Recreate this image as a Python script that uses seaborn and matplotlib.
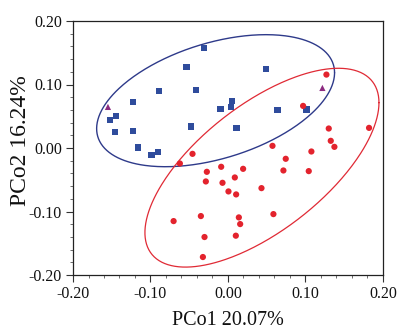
import numpy as np
import pandas as pd
import matplotlib
matplotlib.use("Agg")
import matplotlib.pyplot as plt
from matplotlib.ticker import MultipleLocator, FormatStrFormatter
import seaborn as sns

# ---- data ----
blue_x = [-0.0307, -0.0535, 0.0488, -0.0887, -0.0415, -0.1222, 0.0054, -0.0097, 0.0040, 0.0638,
          0.1012, -0.1446, -0.1519, -0.0475, 0.0110, -0.1463, -0.1222, -0.1162, -0.0986, -0.0904]
blue_y = [0.1580, 0.1277, 0.1240, 0.0899, 0.0915, 0.0720, 0.0742, 0.0616, 0.0647, 0.0595,
          0.0605, 0.0500, 0.0438, 0.0338, 0.0317, 0.0254, 0.0265, 0.0008, -0.0113, -0.0066]

tri_x = [-0.1549, 0.1218]
tri_y = [0.0647, 0.0946]

red_x = [0.1270, 0.0969, 0.1300, 0.1820, 0.1326, 0.1373, 0.0574, 0.1076, -0.0458, 0.0745,
         -0.0621, -0.0088, 0.0195, -0.0273, 0.0715, 0.1042, 0.0088, -0.0286, -0.0071, 0.0006,
         0.0432, 0.0105, -0.0702, -0.0350, 0.0140, 0.0586, 0.0157, -0.0303, 0.0101, -0.0324]
red_y = [0.1156, 0.0663, 0.0307, 0.0317, 0.0113, 0.0018, 0.0034, -0.0055, -0.0092, -0.0170,
         -0.0244, -0.0296, -0.0328, -0.0375, -0.0354, -0.0364, -0.0464, -0.0527, -0.0548, -0.0684,
         -0.0632, -0.0731, -0.1151, -0.1072, -0.1093, -0.1041, -0.1198, -0.1402, -0.1381, -0.1717]

# ellipse parameters: centre (cx, cy), x(t)=cx+A cos t, y(t)=cy+B cos t+C sin t
ell_blue = dict(cx=-0.0160, cy=0.0745, A=0.1535, B=0.0440, C=0.0942)
ell_red = dict(cx=0.0438, cy=-0.0310, A=0.1510, B=0.1023, C=0.1185)

x_ticks = [-0.20, -0.10, 0.00, 0.10, 0.20]
y_ticks = [-0.20, -0.10, 0.00, 0.10, 0.20]
x_label = "PCo1 20.07%"
y_label = "PCo2 16.24%"

df = pd.DataFrame({
    "x": blue_x + tri_x + red_x,
    "y": blue_y + tri_y + red_y,
    "grp": ["A"] * len(blue_x) + ["B"] * len(tri_x) + ["C"] * len(red_x),
})

sns.set_theme(style="white")
plt.rcParams["font.family"] = ["Liberation Serif", "DejaVu Serif"]

fig = plt.figure(figsize=(4.06, 3.36), dpi=100)
ax = fig.add_axes([73 / 406, 1 - 275 / 336, 310 / 406, 254 / 336])

pal = {"A": "#2f4c9c", "B": "#8c2a80", "C": "#e3232d"}
mk = {"A": "s", "B": "^", "C": "o"}
sns.scatterplot(data=df, x="x", y="y", hue="grp", style="grp", palette=pal,
                markers=mk, s=20, linewidth=0, legend=False, ax=ax, zorder=3)

t = np.linspace(0, 2 * np.pi, 400)
for e, col, lw in [(ell_blue, "#2e3a8a", 1.0), (ell_red, "#e02a35", 0.9)]:
    ex = e["cx"] + e["A"] * np.cos(t)
    ey = e["cy"] + e["B"] * np.cos(t) + e["C"] * np.sin(t)
    ax.plot(ex, ey, color=col, lw=lw, zorder=2)

ax.set_xlim(-0.2, 0.2)
ax.set_ylim(-0.2, 0.2)
ax.set_xticks(x_ticks)
ax.set_yticks(y_ticks)
ax.xaxis.set_major_formatter(FormatStrFormatter("%.2f"))
ax.yaxis.set_major_formatter(FormatStrFormatter("%.2f"))
ax.xaxis.set_minor_locator(MultipleLocator(0.02))
ax.yaxis.set_minor_locator(MultipleLocator(0.02))
ax.tick_params(axis="both", which="major", direction="out", length=5, width=0.8,
               color="#333333", labelsize=11.5, labelcolor="#111111",
               bottom=True, left=True, top=False, right=False, pad=3)
ax.tick_params(axis="both", which="minor", direction="out", length=2.5, width=0.6,
               color="#555555", bottom=True, left=True, top=False, right=False)
for sp in ax.spines.values():
    sp.set_color("#222222")
    sp.set_linewidth(0.9)

ax.set_xlabel(x_label, fontsize=14.5, color="#111111", labelpad=6.5)
ax.set_ylabel(y_label, fontsize=17, color="#111111")
ax.yaxis.set_label_coords(-0.136, 0.53)

fig.savefig("out.png", dpi=100, facecolor="white")
